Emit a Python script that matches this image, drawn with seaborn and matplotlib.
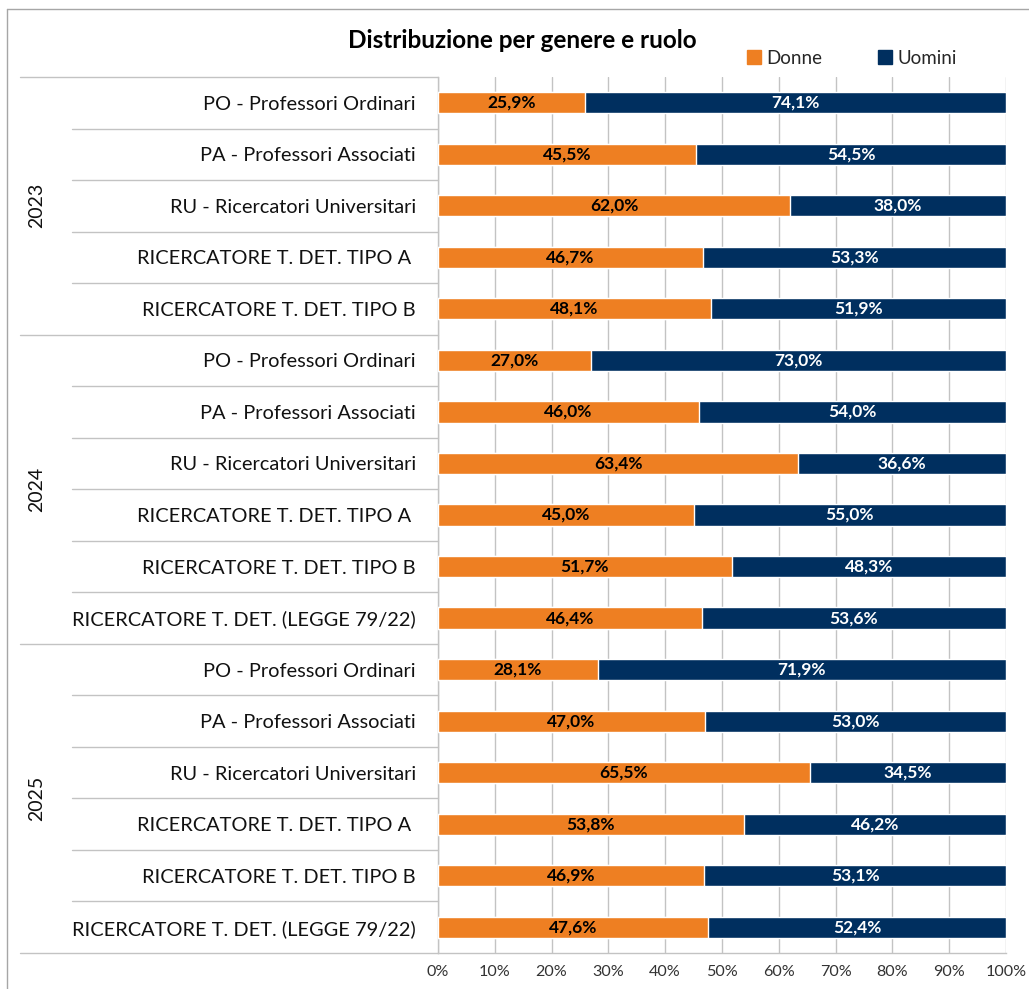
import numpy as np
import pandas as pd
import matplotlib
matplotlib.use("Agg")
import matplotlib.pyplot as plt
import seaborn as sns
from matplotlib.lines import Line2D
from matplotlib.patches import Patch

# ---- dati ----
ANNI = ["2023", "2024", "2025"]
RUOLI_2023 = ["PO - Professori Ordinari", "PA - Professori Associati",
              "RU - Ricercatori Universitari", "RICERCATORE T. DET. TIPO A ",
              "RICERCATORE T. DET. TIPO B"]
RUOLI_2024 = RUOLI_2023 + ["RICERCATORE T. DET. (LEGGE 79/22)"]
RUOLI_2025 = RUOLI_2024
DONNE_2023 = [25.9, 45.5, 62.0, 46.7, 48.1]
UOMINI_2023 = [74.1, 54.5, 38.0, 53.3, 51.9]
DONNE_2024 = [27.0, 46.0, 63.4, 45.0, 51.7, 46.4]
UOMINI_2024 = [73.0, 54.0, 36.6, 55.0, 48.3, 53.6]
DONNE_2025 = [28.1, 47.0, 65.5, 53.8, 46.9, 47.6]
UOMINI_2025 = [71.9, 53.0, 34.5, 46.2, 53.1, 52.4]

C_DONNE = "#EE7F22"
C_UOMINI = "#002F5F"
C_GRID = "#C3C3C3"

rows = []
for anno, ruoli, d, u in [("2023", RUOLI_2023, DONNE_2023, UOMINI_2023),
                          ("2024", RUOLI_2024, DONNE_2024, UOMINI_2024),
                          ("2025", RUOLI_2025, DONNE_2025, UOMINI_2025)]:
    for r, dv, uv in zip(ruoli, d, u):
        rows.append({"id": f"{anno}|{r}", "anno": anno, "ruolo": r,
                     "Donne": dv, "Uomini": uv})
df = pd.DataFrame(rows)
df["Totale"] = df["Donne"] + df["Uomini"]
order = df["id"].tolist()

sns.set_theme(style="white")
plt.rcParams["font.family"] = ["Lato", "DejaVu Sans"]

W, H = 1029, 989
fig = plt.figure(figsize=(W / 100, H / 100), dpi=100)
L, R, T, B = 438, 1006, 77, 953
ax = fig.add_axes([L / W, 1 - B / H, (R - L) / W, (B - T) / H])

sns.barplot(data=df, x="Totale", y="id", order=order, color=C_UOMINI,
            width=0.41, saturation=1, ax=ax, zorder=3)
sns.barplot(data=df, x="Donne", y="id", order=order, color=C_DONNE,
            width=0.41, saturation=1, ax=ax, zorder=4)

# etichette percentuali
for i, row in df.iterrows():
    ax.text(row["Donne"] / 2, i, f"{row['Donne']:.1f}%".replace(".", ","),
            ha="center", va="center", fontsize=12.5, fontweight="bold",
            color="black", zorder=5)
    ax.text(row["Donne"] + row["Uomini"] / 2, i,
            f"{row['Uomini']:.1f}%".replace(".", ","),
            ha="center", va="center", fontsize=12.5, fontweight="bold",
            color="white", zorder=5)

ax.set_xlim(0, 100)
ax.set_ylim(len(df) - 0.5, -0.5)
ax.set_xticks(np.arange(0, 101, 10))
ax.set_xticklabels([f"{v}%" for v in range(0, 101, 10)], fontsize=11.6, color="#333333")
ax.set_yticks(range(len(df)))
ax.set_yticklabels(df["ruolo"], fontsize=14.4, color="#111111")
ax.tick_params(axis="y", length=0, pad=16)
ax.tick_params(axis="x", length=5, width=1, color=C_GRID, pad=4, direction="out")
ax.set_xlabel("")
ax.set_ylabel("")
ax.xaxis.grid(True, color=C_GRID, lw=1, zorder=0)
ax.set_axisbelow(True)
for s in ["top", "right"]:
    ax.spines[s].set_visible(False)
for s in ["left", "bottom"]:
    ax.spines[s].set_color(C_GRID)
    ax.spines[s].set_linewidth(1)

# separatori righe e anni
tr = ax.get_yaxis_transform()
x_in = (72 - L) / (R - L)
x_out = (20 - L) / (R - L)
x_anno = (37 - L) / (R - L)
start = 0
for anno in ANNI:
    n = (df["anno"] == anno).sum()
    for k in range(1, n):
        ax.add_line(Line2D([x_in, 0], [start + k - 0.5] * 2, transform=tr,
                           color=C_GRID, lw=1, clip_on=False))
    ax.add_line(Line2D([x_out, 0], [start + n - 0.5] * 2, transform=tr,
                       color=C_GRID, lw=1, clip_on=False))
    ax.text(x_anno, start + (n - 1) / 2, anno, transform=tr, rotation=90,
            ha="center", va="center", fontsize=14, color="#111111")
    start += n
ax.add_line(Line2D([x_out, 0], [-0.5, -0.5], transform=tr,
                   color=C_GRID, lw=1, clip_on=False))

# bordo del grafico
fig.add_artist(Line2D([7 / W, 1], [1 - 9 / H] * 2, color="#A6A6A6", lw=1))
fig.add_artist(Line2D([7 / W] * 2, [0, 1 - 9 / H], color="#A6A6A6", lw=1))

fig.text(522 / W, 1 - 40 / H, "Distribuzione per genere e ruolo",
         ha="center", va="center", fontsize=17.5, fontweight="bold", color="black")

handles = [Patch(color=C_DONNE, label="Donne"), Patch(color=C_UOMINI, label="Uomini")]
fig.legend(handles=handles, loc="center", bbox_to_anchor=(852 / W, 1 - 58 / H),
           ncol=2, frameon=False, fontsize=13.5, handlelength=0.7, handleheight=0.7,
           handletextpad=0.3, columnspacing=3.0)

fig.savefig("out.png", dpi=100)
